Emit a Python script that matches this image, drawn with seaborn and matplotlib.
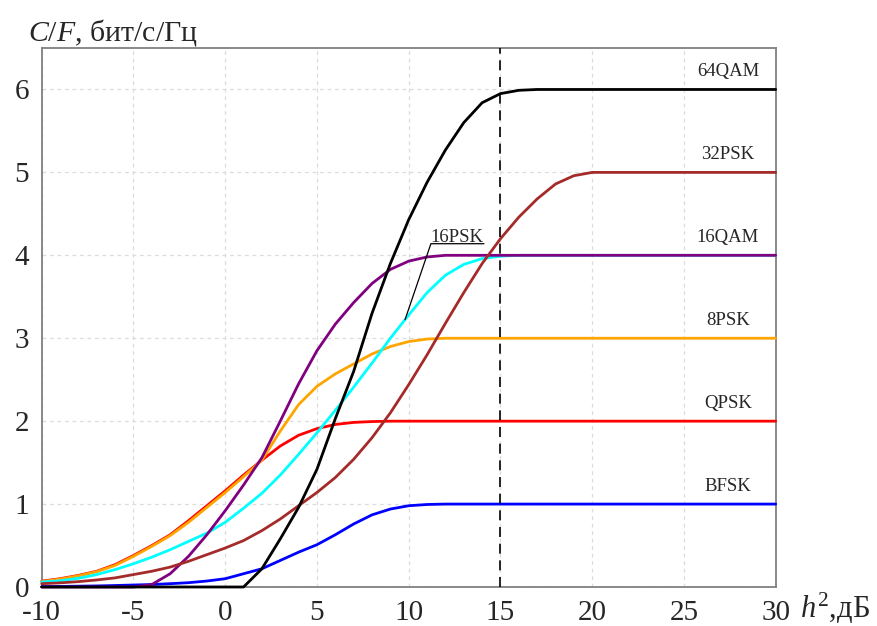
import matplotlib
matplotlib.use("Agg")
import matplotlib.pyplot as plt
import seaborn as sns
import pandas as pd

# Signal-to-noise ratio h^2, dB
h2_db = [-10, -9, -8, -7, -6, -5, -4, -3, -2, -1, 0, 1, 2, 3, 4, 5, 6, 7, 8, 9,
         10, 11, 12, 13, 14, 15, 16, 17, 18, 19, 20, 25, 30]

# Spectral efficiency C/F, bit/s/Hz, for each modulation scheme
bfsk = [0.005, 0.007, 0.01, 0.013, 0.018, 0.024, 0.03, 0.04, 0.052, 0.072, 0.1, 0.16, 0.22,
        0.32, 0.42, 0.51, 0.63, 0.76, 0.87, 0.94, 0.98, 0.995, 1, 1, 1, 1, 1, 1, 1, 1, 1, 1, 1]
qpsk = [0.07, 0.1, 0.14, 0.19, 0.27, 0.38, 0.5, 0.63, 0.8, 0.98, 1.16, 1.35, 1.53,
        1.7, 1.83, 1.91, 1.96, 1.985, 1.995, 2, 2, 2, 2, 2, 2, 2, 2, 2, 2, 2, 2, 2, 2]
psk8 = [0.065, 0.095, 0.135, 0.185, 0.26, 0.37, 0.49, 0.62, 0.78, 0.96, 1.14, 1.33, 1.53,
        1.88, 2.2, 2.42, 2.57, 2.69, 2.81, 2.9, 2.96, 2.99, 3, 3, 3, 3, 3, 3, 3, 3, 3, 3, 3]
psk16 = [0.06, 0.075, 0.105, 0.15, 0.21, 0.28, 0.36, 0.45, 0.55, 0.65, 0.78, 0.95, 1.13,
         1.35, 1.6, 1.86, 2.13, 2.41, 2.7, 3.0, 3.28, 3.55, 3.76, 3.89, 3.96, 3.99, 4, 4, 4,
         4, 4, 4, 4]
qam16 = [0, 0, 0, 0, 0, 0, 0.03, 0.16, 0.37, 0.63, 0.92, 1.23, 1.56,
         2.0, 2.45, 2.85, 3.17, 3.43, 3.66, 3.83, 3.93, 3.98, 4, 4, 4, 4, 4, 4, 4, 4, 4, 4, 4]
psk32 = [0.04, 0.05, 0.065, 0.085, 0.11, 0.15, 0.19, 0.24, 0.31, 0.39, 0.47, 0.56, 0.68,
         0.82, 0.98, 1.14, 1.32, 1.54, 1.8, 2.1, 2.44, 2.8, 3.18, 3.55, 3.9, 4.2, 4.46, 4.68,
         4.86, 4.96, 5, 5, 5]
qam64 = [0, 0, 0, 0, 0, 0, 0, 0, 0, 0, 0, 0, 0.22,
         0.58, 0.96, 1.42, 2.03, 2.6, 3.3, 3.9, 4.43, 4.88, 5.27, 5.6, 5.84, 5.95, 5.99, 6,
         6, 6, 6, 6, 6]

schemes = ["BFSK", "QPSK", "8PSK", "16PSK", "16QAM", "32PSK", "64QAM"]
series = [bfsk, qpsk, psk8, psk16, qam16, psk32, qam64]
colors = ["#0000ff", "#ff0000", "#ffa500", "#00ffff", "#800080", "#a52a2a", "#000000"]

# Labelled plateaus (16PSK gets a leader line instead)
plateau_labels = ["64QAM", "32PSK", "16QAM", "8PSK", "QPSK", "BFSK"]
plateau_levels = [6, 5, 4, 3, 2, 1]

x_ticks = [-10, -5, 0, 5, 10, 15, 20, 25, 30]
y_ticks = [0, 1, 2, 3, 4, 5, 6]

df = pd.DataFrame({
    "h2": h2_db * len(schemes),
    "cf": [v for s in series for v in s],
    "scheme": [name for name in schemes for _ in h2_db],
})

sns.set_style("white")
plt.rcParams["font.family"] = ["Liberation Serif", "DejaVu Serif"]
plt.rcParams["mathtext.fontset"] = "custom"
plt.rcParams["mathtext.rm"] = "Liberation Serif"
plt.rcParams["mathtext.it"] = "Liberation Serif:italic"
plt.rcParams["axes.unicode_minus"] = False

fig = plt.figure(figsize=(8.78, 6.26), dpi=100)
ax = fig.add_axes([0.0475, 0.0623, 0.836, 0.861])

ax.grid(True, color="#dcdcdc", linestyle=(0, (3, 3)), linewidth=0.9, zorder=0)
ax.set_axisbelow(True)

sns.lineplot(data=df, x="h2", y="cf", hue="scheme", hue_order=schemes,
             palette=dict(zip(schemes, colors)), estimator=None, sort=False,
             linewidth=2.0, legend=False, ax=ax, zorder=3, clip_on=False)

ax.axvline(15, color="black", linestyle=(0, (6, 4)), linewidth=1.2, zorder=4)

for name, level in zip(plateau_labels, plateau_levels):
    ax.text(27.4, level + 0.16, name, ha="center", va="baseline", fontsize=13.5)

# 16PSK label with underline and leader to its curve
x_pt = 9.8
y_pt = 3.0 + 0.8 * (3.28 - 3.0)
ax.plot([x_pt, 11.21, 14.1], [y_pt, 4.14, 4.14], color="black", linewidth=0.9,
        zorder=5)
ax.text(12.65, 4.165, "16PSK", ha="center", va="baseline", fontsize=13.5, zorder=5)

ax.set_xlim(-10, 30)
ax.set_ylim(0, 6.5)
ax.set_xticks(x_ticks)
ax.set_xticklabels([str(t) for t in x_ticks])
ax.set_yticks(y_ticks)
ax.set_yticklabels([str(t) for t in y_ticks])
ax.tick_params(axis="both", labelsize=21, length=4, width=1, color="#808080",
               direction="out", pad=5)
ax.set_xlabel("")
ax.set_ylabel("")

for side in ["left", "bottom", "top", "right"]:
    ax.spines[side].set_color("#808080")
    ax.spines[side].set_linewidth(1.3)
    ax.spines[side].set_visible(True)

fig.text(28 / 878, 1 - 41 / 626, r"$C/F$, бит/с/Гц", fontsize=21.5, ha="left",
         va="baseline")
fig.text(800 / 878, 1 - 618 / 626, r"$h^2$,дБ", fontsize=22, ha="left", va="baseline")

fig.savefig("out.png", dpi=100)
